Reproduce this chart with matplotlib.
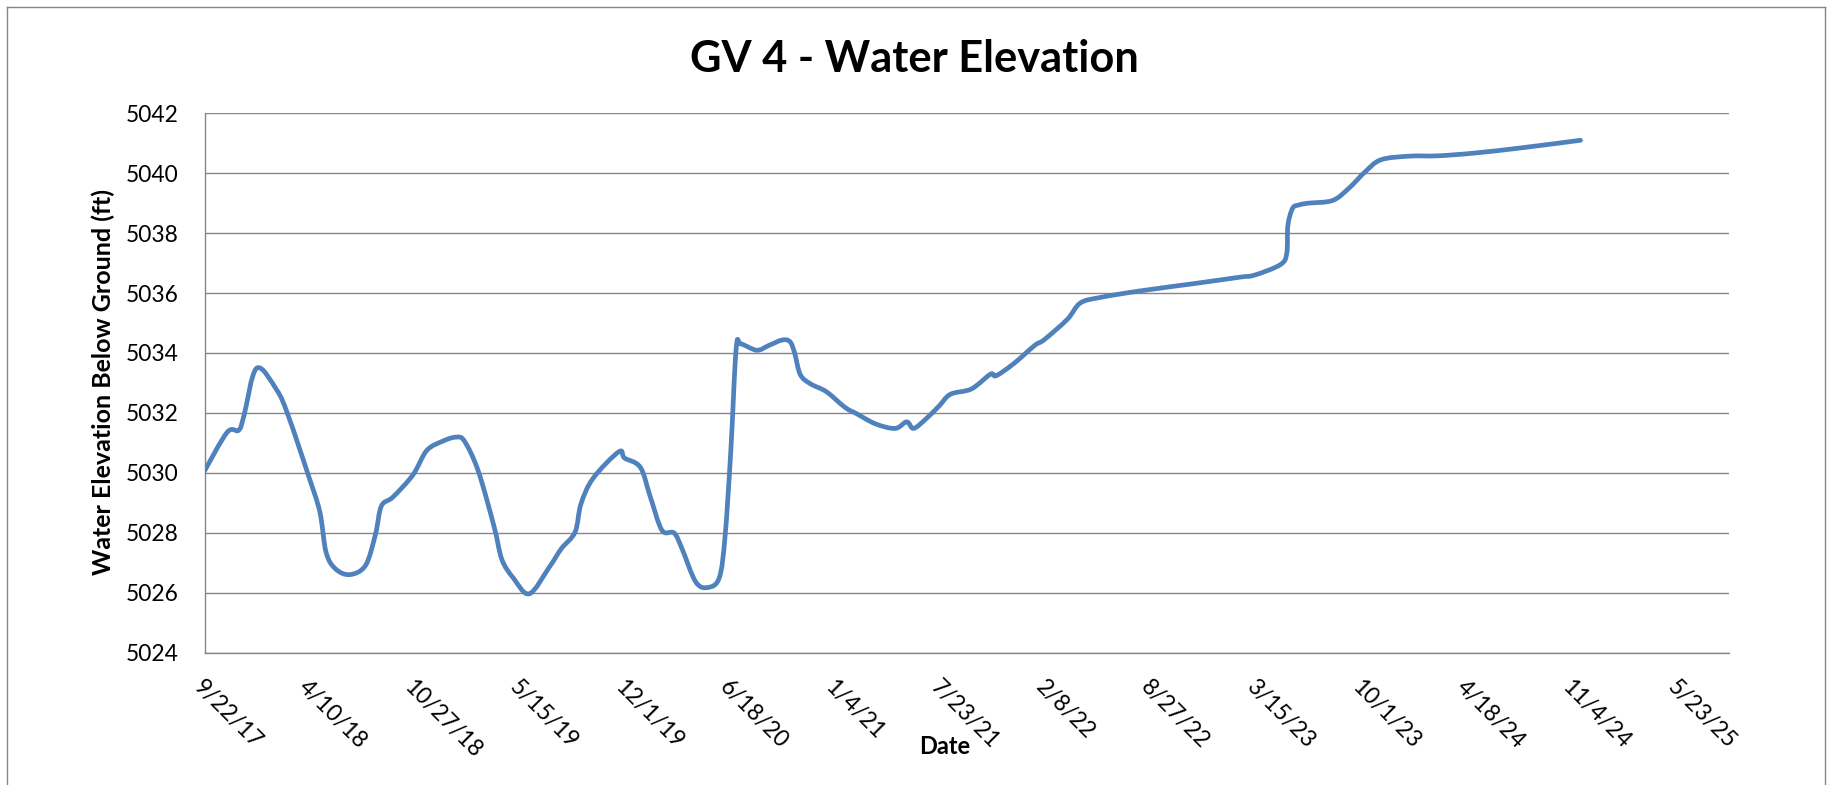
import matplotlib
matplotlib.use("Agg")
import matplotlib.pyplot as plt
import matplotlib.dates as mdates
from matplotlib.lines import Line2D
from matplotlib.path import Path
from matplotlib.patches import PathPatch
import numpy as np
import pandas as pd

# ---------------- data ----------------
start_date = "2017-09-22"
axis_end_date = "2025-08-27"

days_from_start = [
    0, 43, 65, 75, 99, 137, 159, 197, 219, 231, 249, 276, 306, 325, 336, 358,
    396, 422, 452, 478, 494, 520, 550, 565, 587, 617, 655, 678, 704, 715, 738,
    787, 798, 828, 847, 869, 892, 907, 933, 956, 978, 989, 1000, 1010, 1019,
    1049, 1072, 1097, 1112, 1121, 1132, 1152, 1181, 1217, 1239, 1275, 1312,
    1334, 1347, 1370, 1395, 1417, 1457, 1493, 1504, 1537, 1577, 1595, 1639,
    1664, 1704, 1777, 1886, 1967, 1995, 2044, 2056, 2058, 2067, 2079, 2097,
    2143, 2174, 2205, 2235, 2289, 2342, 2411, 2503, 2614,
]
elevation_ft = [
    5030.06, 5031.35, 5031.42, 5031.91, 5033.49, 5032.77, 5031.91, 5029.93,
    5028.70, 5027.34, 5026.79, 5026.60, 5026.91, 5027.96, 5028.89, 5029.19,
    5029.93, 5030.74, 5031.05, 5031.19, 5031.05, 5030.06, 5028.21, 5027.10,
    5026.48, 5025.96, 5026.85, 5027.47, 5028.02, 5028.95, 5029.81, 5030.70,
    5030.49, 5030.18, 5029.19, 5028.08, 5027.99, 5027.47, 5026.36, 5026.17,
    5026.50, 5027.90, 5030.80, 5034.15, 5034.30, 5034.09, 5034.25, 5034.43,
    5034.38, 5034.00, 5033.27, 5032.96, 5032.71, 5032.18, 5031.97, 5031.63,
    5031.48, 5031.70, 5031.48, 5031.79, 5032.22, 5032.62, 5032.80, 5033.29,
    5033.24, 5033.64, 5034.25, 5034.44, 5035.12, 5035.67, 5035.86, 5036.07,
    5036.33, 5036.53, 5036.60, 5036.95, 5037.34, 5038.25, 5038.83, 5038.94,
    5039.00, 5039.09, 5039.50, 5040.05, 5040.45, 5040.57, 5040.58, 5040.67,
    5040.85, 5041.10,
]
x_tick_labels = [
    "9/22/17", "4/10/18", "10/27/18", "5/15/19", "12/1/19", "6/18/20",
    "1/4/21", "7/23/21", "2/8/22", "8/27/22", "3/15/23", "10/1/23",
    "4/18/24", "11/4/24", "5/23/25",
]
y_ticks = [5024, 5026, 5028, 5030, 5032, 5034, 5036, 5038, 5040, 5042]

title_text = "GV 4 - Water Elevation"
x_label = "Date"
y_label = "Water Elevation Below Ground (ft)"

# ---------------- figure ----------------
W, H = 1832, 785
fig = plt.figure(figsize=(W / 100, H / 100), dpi=100)
fig.patch.set_facecolor("white")

FONT = ["Lato", "DejaVu Sans"]
plt.rcParams["font.family"] = FONT

GRID = "#868686"
LINE = "#4F81BD"

def fx(x):
    return x / W

def fy(y):
    return 1 - y / H

left, right, top, bottom = 204.5, 1729.0, 113.3, 652.5
ax = fig.add_axes([fx(left), fy(bottom), fx(right - left), (bottom - top) / H])

t0 = pd.Timestamp(start_date)
dates = t0 + pd.to_timedelta(days_from_start, unit="D")
xnum = mdates.date2num(dates.to_pydatetime())
ynum = np.asarray(elevation_ft, dtype=float)

# smoothed line (Excel-style "smoothed line": Catmull-Rom Bezier through the points)
px_ = np.concatenate([[xnum[0]], xnum, [xnum[-1]]])
py_ = np.concatenate([[ynum[0]], ynum, [ynum[-1]]])
verts = [(xnum[0], ynum[0])]
codes = [Path.MOVETO]
for i in range(1, len(px_) - 2):
    c1 = (px_[i] + (px_[i + 1] - px_[i - 1]) / 6, py_[i] + (py_[i + 1] - py_[i - 1]) / 6)
    c2 = (px_[i + 1] - (px_[i + 2] - px_[i]) / 6, py_[i + 1] - (py_[i + 2] - py_[i]) / 6)
    verts += [c1, c2, (px_[i + 1], py_[i + 1])]
    codes += [Path.CURVE4] * 3
ax.add_patch(PathPatch(Path(verts, codes), fill=False, edgecolor=LINE, lw=3.4,
                       capstyle="round", joinstyle="round", zorder=3))

tick_dates = [pd.to_datetime(s, format="%m/%d/%y") for s in x_tick_labels]
ax.set_xlim(t0, pd.Timestamp(axis_end_date))
ax.set_xticks(tick_dates)
ax.set_xticklabels(x_tick_labels)
ax.set_ylim(5024, 5042)
ax.set_yticks(y_ticks)
ax.set_yticklabels([str(v) for v in y_ticks])

ax.yaxis.grid(True, color=GRID, lw=1.0)
ax.xaxis.grid(False)
ax.set_axisbelow(True)
for s in ["top", "right"]:
    ax.spines[s].set_visible(False)
for s in ["left", "bottom"]:
    ax.spines[s].set_color(GRID)
    ax.spines[s].set_linewidth(1.0)

ax.tick_params(axis="both", length=0, labelsize=16.4, labelcolor="black")
ax.tick_params(axis="y", pad=18.5)
ax.tick_params(axis="x", pad=17)
for lab in ax.get_xticklabels():
    lab.set_rotation(-45)
    lab.set_ha("left")
    lab.set_va("top")
    lab.set_rotation_mode("anchor")

# titles / labels as figure text
t_title = fig.text(fx(914), fy(72), title_text, ha="center", va="baseline",
                   fontsize=30, fontweight="bold", color="black")
t_x = fig.text(fx(945), fy(753.5), x_label, ha="center", va="baseline",
               fontsize=16.4, fontweight="bold", color="black")
t_y = fig.text(fx(103), fy(382), y_label, ha="center", va="center", rotation=90,
               fontsize=16.4, fontweight="bold", color="black")

# fit text sizes to the measured extents of the reference
fig.canvas.draw()
r = fig.canvas.get_renderer()
for t, target, use_h in [(t_title, 448, False), (t_x, 51, False), (t_y, 384, True)]:
    bb = t.get_window_extent(r)
    cur = bb.height if use_h else bb.width
    t.set_fontsize(t.get_fontsize() * target / cur)

# outer chart frame (left, top, right)
fx0, fx1, fy0 = fx(6.5), fx(1824.5), fy(6.5)
for xs, ys in [([fx0, fx0], [fy0, -0.01]), ([fx0, fx1], [fy0, fy0]),
               ([fx1, fx1], [fy0, -0.01])]:
    fig.add_artist(Line2D(xs, ys, color=GRID, lw=1.0, transform=fig.transFigure))

fig.savefig("out.png", dpi=100, facecolor="white")
